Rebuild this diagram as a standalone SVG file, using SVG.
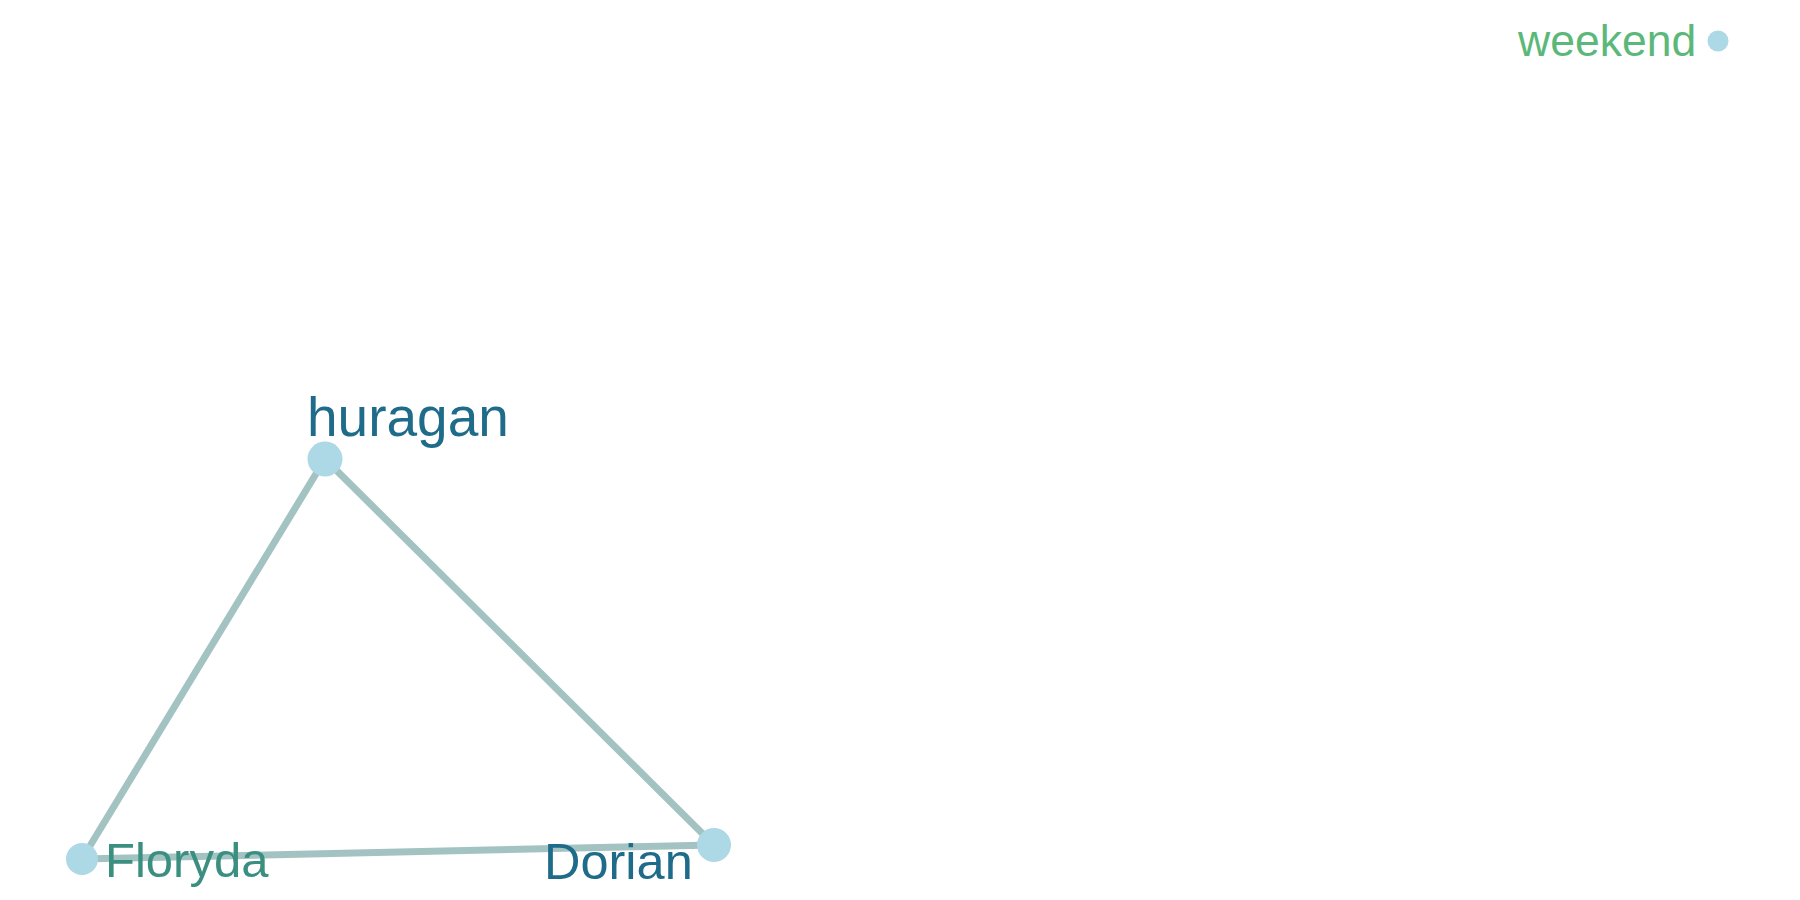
<svg xmlns="http://www.w3.org/2000/svg" width="1800" height="900" viewBox="0 0 1800 900">
<style>
.edge{stroke:#a3c3c2;stroke-width:7;fill:none}
.node{fill:#add8e6}
.lbl{font-family:"Liberation Sans",Arial,sans-serif}
</style>
<rect width="1800" height="900" fill="#ffffff"/>
<g id="edges">
<line class="edge" x1="325" y1="459" x2="82" y2="859"/>
<line class="edge" x1="325" y1="459" x2="714" y2="845"/>
<line class="edge" x1="82" y1="859" x2="714" y2="845"/>
</g>
<g id="node-huragan">
<circle class="node" cx="325" cy="459" r="17.5"/>
<text class="lbl" x="307" y="436" font-size="55" fill="#1f6b8a">huragan</text>
</g>
<g id="node-Floryda">
<circle class="node" cx="82" cy="859" r="16"/>
<text class="lbl" x="105" y="877" font-size="49" fill="#3a8f80">Floryda</text>
</g>
<g id="node-Dorian">
<circle class="node" cx="714" cy="845" r="17"/>
<text class="lbl" x="544" y="879" font-size="50.5" fill="#1f6b8a">Dorian</text>
</g>
<g id="node-weekend">
<circle class="node" cx="1718" cy="41" r="10.5"/>
<text class="lbl" x="1518" y="56" font-size="44.5" fill="#5cb87a">weekend</text>
</g>
</svg>
